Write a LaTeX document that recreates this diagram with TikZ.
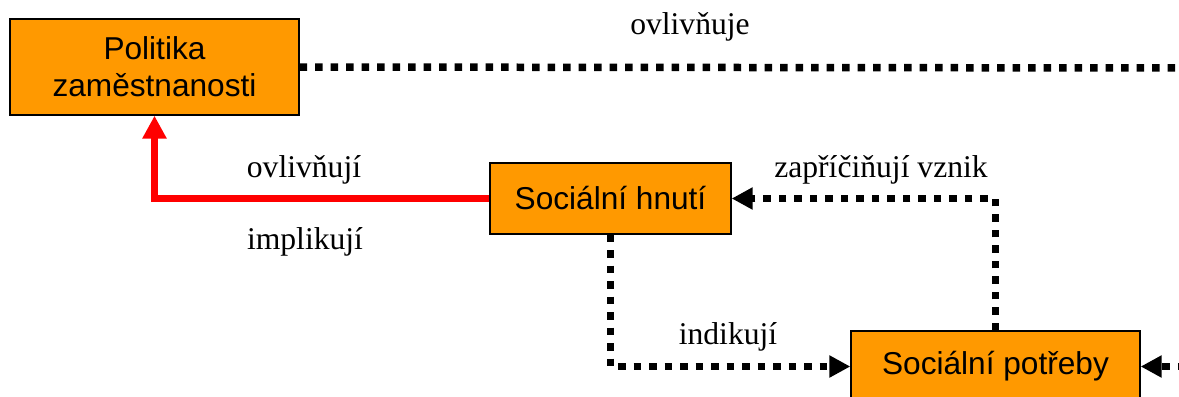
\documentclass[tikz,border=0pt]{standalone}
\usepackage{fontspec}
\setmainfont{Liberation Serif}
\newfontfamily\boxfont{Liberation Sans}
\usetikzlibrary{arrows.meta}
\definecolor{boxorange}{RGB}{255,153,0}
\begin{document}
\begin{tikzpicture}[
        x=0.02cm, y=-0.02cm,
        state/.style={rectangle, draw, line width=0.8pt, fill=boxorange, align=center,
            font=\boxfont\fontsize{18}{21}\selectfont, inner sep=0pt},
        label/.style={font=\fontsize{18}{21}\selectfont, inner sep=0pt},
        dotline/.style={line width=0.15cm, dash pattern=on 0.15cm off 0.16cm},
        arrow/.style={-{Triangle[length=0.42cm, width=0.42cm]}},
        redarrow/.style={line width=0.14cm, red, -{Triangle[length=0.46cm, width=0.46cm]}}
    ]
        \useasboundingbox (0,0) rectangle (1179,396);

        % States
        \node[state, minimum width=5.78cm, minimum height=1.92cm] (policy) at (154.5,67) {Politika\\zaměstnanosti};
        \node[state, minimum width=4.82cm, minimum height=1.42cm] (movement) at (610.5,198.5) {Sociální hnutí};
        \node[state, minimum width=5.78cm, minimum height=1.42cm] (needs) at (995.5,366.5) {Sociální potřeby};

        % Free ends at the right edge
        \coordinate (policyout) at (1185,68);
        \coordinate (needsin) at (1185,366.5);

        % Transitions
        \draw[dotline] (policy.east) -- (policyout);
        \draw[redarrow] (movement.west) -| (policy.south);
        \draw[dotline, arrow] (needs.north) |- (movement.east);
        \draw[dotline, arrow] (movement.south) |- (needs.west);
        \draw[dotline, arrow] (needsin) -- (needs.east);

        % Labels
        \node[label] (influences) at (690,27) {ovlivňuje};
        \node[label] (influence) at (304,170) {ovlivňují};
        \node[label] (imply) at (305,242) {implikují};
        \node[label] (cause) at (881,170) {zapříčiňují vznik};
        \node[label] (indicate) at (728,337) {indikují};
    \end{tikzpicture}
\end{document}
